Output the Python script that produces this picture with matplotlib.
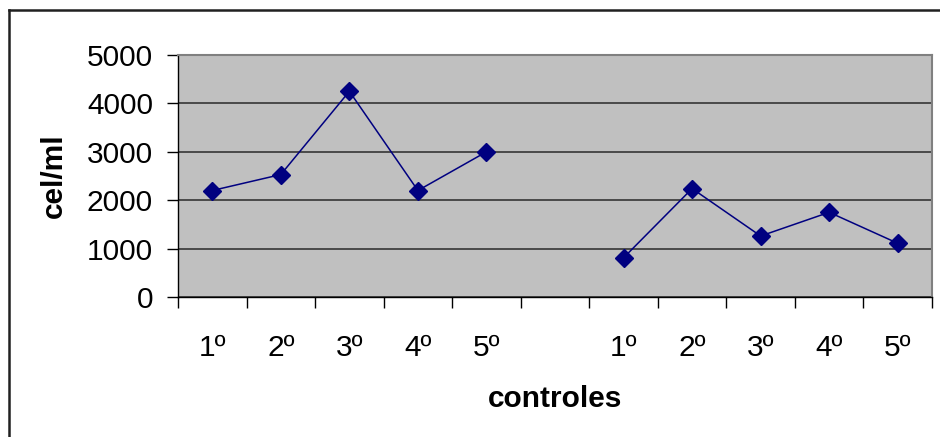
import numpy as np
import matplotlib.pyplot as plt
from matplotlib.lines import Line2D

plt.rcParams['font.family'] = ['Liberation Sans', 'DejaVu Sans']

# data
categorias = ['1º', '2º', '3º', '4º', '5º', '', '1º', '2º', '3º', '4º', '5º']
valores = [2200, 2530, 4250, 2200, 3000, np.nan, 810, 2240, 1260, 1750, 1110]

fig = plt.figure(figsize=(9.4, 4.37), dpi=100)
ax = fig.add_axes([178/940, 1 - 297/437, (932 - 178)/940, (297 - 55)/437])

x = np.arange(len(categorias))
ax.plot(x, valores, color='#000080', linewidth=1.1, marker='D', markersize=9.5,
        markerfacecolor='#000080', markeredgecolor='#000080')

ax.set_facecolor('#C0C0C0')
ax.set_xlim(-0.5, len(categorias) - 0.5)
ax.set_ylim(0, 5000)
ax.set_yticks(range(0, 5001, 1000))
ax.yaxis.grid(True, color='#404040', linewidth=1.3)
ax.set_axisbelow(True)

# category ticks between slots, labels at centers
ax.set_xticks(np.arange(-0.5, len(categorias), 1.0))
ax.set_xticklabels([])
ax.set_xticks(x, minor=True)
ax.set_xticklabels(categorias, minor=True)
ax.tick_params(axis='x', which='minor', length=0, pad=27, labelsize=21.5)
ax.tick_params(axis='x', which='major', length=8, width=1, color='#000000', direction='out')
ax.tick_params(axis='y', length=8, width=1, pad=10, labelsize=21.5, direction='out')

for s in ['top', 'right']:
    ax.spines[s].set_color('#808080')
    ax.spines[s].set_linewidth(1.5)
for s in ['left', 'bottom']:
    ax.spines[s].set_color('#000000')
    ax.spines[s].set_linewidth(1)

ax.set_xlabel('controles', fontsize=21.5, fontweight='bold', labelpad=16)
ax.set_ylabel('cel/ml', fontsize=21.5, fontweight='bold', labelpad=14)

# outer chart border (top and left visible)
fig.add_artist(Line2D([9/940, 9/940], [0, 1 - 10/437], color='#202020', linewidth=1.8,
                      transform=fig.transFigure))
fig.add_artist(Line2D([9/940, 1], [1 - 10/437, 1 - 10/437], color='#202020', linewidth=1.8,
                      transform=fig.transFigure))

plt.savefig('out.png', dpi=100)
